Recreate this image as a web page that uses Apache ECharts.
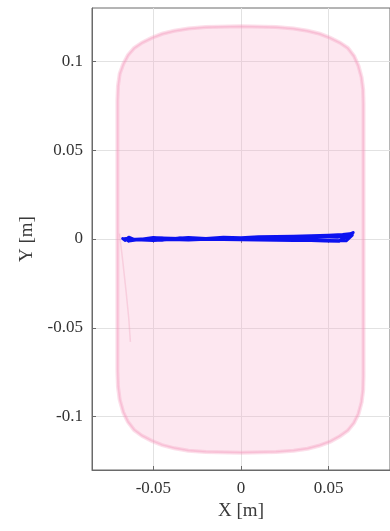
<!DOCTYPE html>
<html>
<head>
<meta charset="utf-8">
<script src="https://cdn.jsdelivr.net/npm/echarts@6/dist/echarts.min.js"></script>
<style>
  html, body { margin: 0; padding: 0; background: #fff; }
  #chart { width: 390px; height: 531px; }
</style>
</head>
<body>
<div id="chart"></div>
<script>
// Axis extents and tick positions
const xRange = [-0.085, 0.085];
const yRange = [-0.13, 0.13];
const xTicks = [-0.05, 0, 0.05];
const yTicks = [-0.1, -0.05, 0, 0.05, 0.1];

// Reachable workspace outline (clockwise from upper-left)
const workspaceX = [
  -0.0705, -0.0702, -0.0692, -0.0672, -0.0645, -0.0610, -0.0565, -0.0510, -0.0450, -0.0380,
  -0.0300, -0.0200, 0.0000, 0.0200, 0.0300, 0.0380, 0.0450, 0.0510, 0.0565, 0.0610,
  0.0645, 0.0670, 0.0688, 0.0697, 0.0699, 0.0699, 0.0697, 0.0688, 0.0670, 0.0645,
  0.0610, 0.0565, 0.0510, 0.0450, 0.0380, 0.0300, 0.0200, 0.0000, -0.0200, -0.0300,
  -0.0380, -0.0450, -0.0510, -0.0565, -0.0610, -0.0645, -0.0672, -0.0692, -0.0702, -0.0705
];
const workspaceY = [
  0.0780, 0.0860, 0.0930, 0.0985, 0.1035, 0.1075, 0.1105, 0.1132, 0.1155, 0.1172,
  0.1185, 0.1193, 0.1197, 0.1193, 0.1185, 0.1172, 0.1155, 0.1132, 0.1105, 0.1075,
  0.1030, 0.0975, 0.0910, 0.0840, 0.0760, -0.0770, -0.0850, -0.0920, -0.0985, -0.1035,
  -0.1078, -0.1110, -0.1140, -0.1162, -0.1180, -0.1192, -0.1199, -0.1203, -0.1199, -0.1192,
  -0.1178, -0.1160, -0.1136, -0.1108, -0.1075, -0.1030, -0.0975, -0.0905, -0.0830, -0.0740
];

// Faint boundary trace inside the left edge
const edgeTraceX = [-0.0693, -0.0675, -0.0655, -0.0640, -0.0631];
const edgeTraceY = [0.0030, -0.0120, -0.0300, -0.0450, -0.0579];

// Measured end-effector trajectory
const trajX = [
  -0.0675, -0.0660, -0.0640, -0.0600, -0.0500, -0.0400, -0.0300, -0.0200, -0.0100, 0.0000,
  0.0100, 0.0200, 0.0300, 0.0400, 0.0500, 0.0580, 0.0620, 0.0640, 0.0650, 0.0630,
  0.0560, 0.0480, 0.0400, 0.0300, 0.0200, 0.0100, 0.0000, -0.0100, -0.0200, -0.0300,
  -0.0400, -0.0500, -0.0600, -0.0660, -0.0640, -0.0550, -0.0450, -0.0350, -0.0250, -0.0150,
  -0.0050, 0.0050, 0.0150, 0.0250, 0.0350, 0.0450, 0.0550, 0.0610, 0.0635, 0.0600,
  0.0500, 0.0400, 0.0300, 0.0200, 0.0100, 0.0000, -0.0150, -0.0300, -0.0450, -0.0600,
  -0.0665
];
const trajY = [
  0.0003, -0.0008, 0.0010, -0.0006, 0.0008, 0.0002, 0.0009, 0.0003, 0.0010, 0.0007,
  0.0012, 0.0014, 0.0016, 0.0018, 0.0021, 0.0025, 0.0029, 0.0036, 0.0042, 0.0026,
  -0.0012, -0.0011, -0.0009, -0.0008, -0.0007, -0.0006, -0.0004, -0.0003, -0.0002, -0.0005,
  -0.0003, -0.0008, -0.0004, 0.0001, -0.0012, 0.0002, -0.0007, 0.0005, -0.0003, 0.0004,
  0.0001, 0.0006, 0.0002, 0.0008, 0.0005, 0.0012, 0.0010, 0.0018, 0.0022, -0.0010,
  -0.0008, -0.0004, -0.0001, 0.0000, 0.0003, 0.0001, 0.0004, 0.0001, 0.0005, -0.0002,
  0.0002
];

const zip = (xs, ys) => xs.map((x, i) => [x, ys[i]]);
const workspace = zip(workspaceX, workspaceY);
const edgeTrace = zip(edgeTraceX, edgeTraceY);
const trajectory = zip(trajX, trajY);

const serif = '"Liberation Serif", "DejaVu Serif", serif';

const chart = echarts.init(document.getElementById('chart'), null, { renderer: 'canvas' });

chart.setOption({
  animation: false,
  backgroundColor: '#ffffff',
  grid: {
    left: 92, top: 8, right: -5, bottom: 61,
    show: true, borderColor: '#6a6a6a', borderWidth: 1, backgroundColor: 'transparent'
  },
  xAxis: [{
    type: 'value', min: xRange[0], max: xRange[1],
    name: 'X [m]', nameLocation: 'middle', nameGap: 31,
    nameTextStyle: { fontFamily: serif, fontSize: 19, color: '#3a3a3a' },
    axisLine: { show: true, onZero: false, lineStyle: { color: '#6a6a6a', width: 1 } },
    axisTick: { show: true, inside: true, length: 4, customValues: xTicks, lineStyle: { color: '#6a6a6a' } },
    axisLabel: { customValues: xTicks, margin: 10, fontFamily: serif, fontSize: 17, color: '#333' },
    splitLine: { show: true, lineStyle: { color: '#e2e2e2', width: 1 } }
  }, {
    type: 'value', position: 'top', min: xRange[0], max: xRange[1],
    axisLine: { show: false },
    axisTick: { show: true, inside: true, length: 4, customValues: xTicks, lineStyle: { color: '#6a6a6a' } },
    axisLabel: { show: false },
    splitLine: { show: false }
  }],
  yAxis: [{
    type: 'value', min: yRange[0], max: yRange[1],
    name: 'Y [m]', nameLocation: 'middle', nameGap: 55,
    nameTextStyle: { fontFamily: serif, fontSize: 19, color: '#3a3a3a' },
    axisLine: { show: true, onZero: false, lineStyle: { color: '#6a6a6a', width: 1 } },
    axisTick: { show: true, inside: true, length: 4, customValues: yTicks, lineStyle: { color: '#6a6a6a' } },
    axisLabel: { customValues: yTicks, margin: 9, fontFamily: serif, fontSize: 17, color: '#333' },
    splitLine: { show: true, lineStyle: { color: '#e2e2e2', width: 1 } }
  }],
  series: [{
    // Workspace region drawn as a filled polygon through the axis scales
    type: 'custom',
    silent: true,
    clip: true,
    data: [0],
    renderItem: function (params, api) {
      const pts = workspace.map(p => api.coord(p));
      return {
        type: 'group',
        children: [{
          type: 'polygon',
          shape: { points: pts },
          style: { fill: 'rgba(248, 165, 198, 0.27)', stroke: 'rgba(244, 150, 186, 0.30)', lineWidth: 4 }
        }, {
          type: 'polygon',
          shape: { points: pts },
          style: { fill: 'none', stroke: 'rgba(244, 150, 186, 0.35)', lineWidth: 1.5 }
        }]
      };
    },
    z: 1
  }, {
    type: 'line',
    data: edgeTrace,
    showSymbol: false,
    silent: true,
    lineStyle: { color: 'rgba(240, 150, 180, 0.3)', width: 1.5 },
    z: 2
  }, {
    type: 'line',
    data: trajectory,
    showSymbol: false,
    silent: true,
    lineStyle: { color: '#0c12f0', width: 3, join: 'round', cap: 'round' },
    z: 3
  }]
});
</script>
</body>
</html>
